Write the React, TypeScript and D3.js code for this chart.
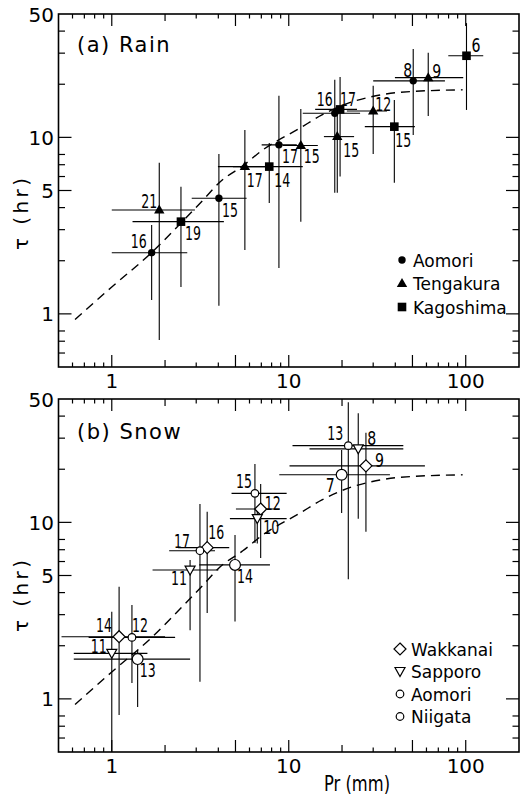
import React from "react";
import * as d3 from "d3";

// ---------- data ----------
// Axis ticks
const xLabelValues = [1, 10, 100];
const xLabelTexts = ["1", "10", "100"];
const xLongTicks = [1, 5, 10, 50, 100];
const xMidTicks = [2, 20];
const xShortTicks = [0.6, 0.7, 0.8, 0.9, 3, 4, 6, 7, 8, 9, 30, 40, 60, 70, 80, 90];
const yLabelValues = [1, 5, 10, 50];
const yLabelTexts = ["1", "5", "10", "50"];
const yLongTicks = [1, 5, 10];
const yShortTicks = [0.6, 0.7, 0.8, 2, 3, 4, 6, 7, 8, 20, 30, 40];

// Dashed model curve (same in both panels)
const curvePr = [0.62, 1.0, 1.7, 2.48, 3.27, 4.1, 5.5, 7.15, 11.6, 15.4, 22.8, 28.7, 42.4, 96];
const curveTau = [0.93, 1.42, 2.25, 3.3, 4.4, 5.6, 6.9, 8.5, 11.3, 13.4, 15.9, 16.9, 18.0, 18.6];

// (a) Rain  — [Pr, tau, PrLo, PrHi, tauLo, tauHi, n]
const rainAomori = [
  [1.68, 2.22, 1.0, 2.67, 1.2, 3.19, "16"],
  [4.03, 4.52, 2.83, 5.78, 1.11, 8.06, "15"],
  [8.8, 9.07, 7.03, 11.1, 1.82, 17.2, "17"],
  [18.2, 13.7, 12.0, 25.3, 4.85, 21.2, "16"],
  [50.5, 20.9, 30, 76.3, 10.3, 31.7, "8"],
];
const rainTengakura = [
  [1.855, 3.88, 1.0, 2.95, 0.71, 7.17, "21"],
  [5.65, 6.83, 3.98, 7.34, 2.3, 11.0, "17"],
  [11.7, 8.99, 9.27, 14.6, 3.33, 14.5, "15"],
  [18.8, 10.1, 15.8, 23.4, 4.85, 13.8, "15"],
  [30.0, 14.1, 21.3, 35.9, 8.06, 19.6, "12"],
  [61.4, 21.8, 39.8, 96.8, 13.2, 30.2, "9"],
];
const rainKagoshima = [
  [2.46, 3.33, 1.31, 4.3, 1.42, 5.25, "19"],
  [7.76, 6.83, 4.84, 12.0, 4.25, 9.3, "14"],
  [19.5, 14.4, 14.1, 24.3, 6.0, 22.0, "17"],
  [39.5, 11.5, 26.9, 51.6, 5.53, 16.3, "15"],
  [101, 29, 79.7, 125.6, 14.3, 44.4, "6"],
];

// (b) Snow
const snowWakkanai = [
  [1.10, 2.25, 0.52, 2.0, 0.81, 4.32, "14"],
  [3.46, 7.19, 2.37, 4.61, 3.07, 11.5, "16"],
  [6.94, 11.9, 5.03, 8.9, 6.28, 16.5, "12"],
  [27.3, 20.9, 10.1, 58.8, 8.86, 32.2, "9"],
];
const snowSapporo = [
  [1.0, 1.81, 0.61, 1.59, 0.5, 3.12, "11"],
  [2.77, 5.37, 1.70, 4.0, 2.45, 6.12, "11"],
  [6.64, 10.5, 4.65, 9.73, 7.6, 11.5, "10"],
  [24.7, 26.1, 13.1, 44.4, 10.5, 41.5, "8"],
];
const snowAomori = [
  [1.30, 2.23, 0.74, 2.28, 1.23, 3.4, "12"],
  [3.15, 6.91, 2.11, 3.83, 1.25, 12.7, "17"],
  [6.44, 14.6, 4.75, 9.73, 7.64, 21.4, "15"],
  [21.7, 27.2, 10.5, 44.4, 4.76, 48, "13"],
];
const snowNiigata = [
  [1.40, 1.68, 0.61, 2.77, 0.90, 1.9, "13"],
  [4.97, 5.74, 3.12, 7.83, 2.74, 8.48, "14"],
  [19.9, 18.6, 8.84, 37.3, 11.3, 25.7, "7"],
];

const rainNames = ["Aomori", "Tengakura", "Kagoshima"];
const snowNames = ["Wakkanai", "Sapporo", "Aomori", "Niigata"];

// ---------- label placement (style, px offsets from marker) ----------
const rainAomoriLbl = [[-5, -5, "end"], [3, 19, "start"], [3, 18, "start"], [-2, -7, "end"], [-1, -4, "end"]];
const rainTengakuraLbl = [[-2, -2, "end"], [2, 20, "start"], [3, 17, "start"], [6, 20, "start"], [2, 0, "start"], [4, 0, "start"]];
const rainKagoshimaLbl = [[4, 18, "start"], [5, 20, "start"], [0, -3, "start"], [1, 20, "start"], [5, -4, "start"]];
const snowWakkanaiLbl = [[-7, -5, "end"], [1, -9, "start"], [4, 1, "start"], [9, 1, "start"]];
const snowSapporoLbl = [[-5, 0, "end"], [-3, 15, "end"], [6, 15, "start"], [9, -4, "start"]];
const snowAomoriLbl = [[0, -5, "start"], [-10, -3, "end"], [-3, -5, "end"], [-5, -6, "end"]];
const snowNiigataLbl = [[2, 18, "start"], [2, 18, "start"], [-7, 17, "end"]];

// ---------- layout ----------
const W = 527;
const H = 797;
const X0 = 58.5;
const X1 = 519;
const FONT = "'DejaVu Sans', 'Liberation Sans', sans-serif";

const x = d3.scaleLog().domain([0.5, 200]).range([X0, X1]);

type Row = (number | string)[];

function Marker({ kind, cx, cy }: { kind: string; cx: number; cy: number }) {
  const sw = 1.2;
  switch (kind) {
    case "dot":
      return <circle cx={cx} cy={cy} r={3.7} fill="#000" />;
    case "tri":
      return <path d={`M${cx},${cy - 5.5}L${cx + 5.2},${cy + 3.5}L${cx - 5.2},${cy + 3.5}Z`} fill="#000" />;
    case "sq":
      return <rect x={cx - 4.3} y={cy - 4.3} width={8.6} height={8.6} fill="#000" />;
    case "dia":
      return <path d={`M${cx},${cy - 6}L${cx + 6},${cy}L${cx},${cy + 6}L${cx - 6},${cy}Z`} fill="#fff" stroke="#000" strokeWidth={sw} />;
    case "tridown":
      return <path d={`M${cx - 5},${cy - 4}L${cx + 5},${cy - 4}L${cx},${cy + 5}Z`} fill="#fff" stroke="#000" strokeWidth={sw} />;
    case "osmall":
      return <circle cx={cx} cy={cy} r={3.8} fill="#fff" stroke="#000" strokeWidth={sw} />;
    case "obig":
      return <circle cx={cx} cy={cy} r={5.4} fill="#fff" stroke="#000" strokeWidth={sw} />;
    default:
      return null;
  }
}

function Panel(props: {
  top: number;
  bottom: number;
  series: { rows: Row[]; lbl: (number | string)[][]; kind: string }[];
  names: string[];
  kinds: string[];
  legendX: number;
  legendY: number[];
  title: string;
  titleY: number;
  yTitleY: number;
  xLabelY: number;
}) {
  const { top, bottom } = props;
  const y = d3.scaleLog().domain([0.5, 50]).range([bottom, top]);
  const curve = d3
    .line<number>()
    .x((_, i) => x(curvePr[i]))
    .y((_, i) => y(curveTau[i]))
    .curve(d3.curveMonotoneX);
  const clampX = (v: number) => x(Math.max(0.5, Math.min(200, v)));
  const clampY = (v: number) => y(Math.max(0.5, Math.min(50, v)));

  const tickEls: React.ReactNode[] = [];
  const xt = (vals: number[], len: number, key: string) =>
    vals.forEach((v, i) => {
      tickEls.push(<line key={`xb${key}${i}`} x1={x(v)} x2={x(v)} y1={bottom} y2={bottom - len} stroke="#000" strokeWidth={1.2} />);
      tickEls.push(<line key={`xt${key}${i}`} x1={x(v)} x2={x(v)} y1={top} y2={top + len} stroke="#000" strokeWidth={1.2} />);
    });
  xt(xLongTicks, 12, "L");
  xt(xMidTicks, 7, "M");
  xt(xShortTicks, 4.5, "S");
  const yt = (vals: number[], len: number, key: string) =>
    vals.forEach((v, i) => {
      tickEls.push(<line key={`yl${key}${i}`} x1={X0} x2={X0 + len} y1={y(v)} y2={y(v)} stroke="#000" strokeWidth={1.2} />);
      tickEls.push(<line key={`yr${key}${i}`} x1={X1} x2={X1 - len} y1={y(v)} y2={y(v)} stroke="#000" strokeWidth={1.2} />);
    });
  yt(yLongTicks, 13, "L");
  yt(yShortTicks, 6.5, "S");

  return (
    <g>
      <rect x={X0} y={top} width={X1 - X0} height={bottom - top} fill="none" stroke="#000" strokeWidth={1.6} />
      {tickEls}
      {yLabelValues.map((v, i) => (
        <text key={`yl${i}`} x={54} y={y(v) + 7.5} textAnchor="end" fontSize={20} fontFamily={FONT}>
          {yLabelTexts[i]}
        </text>
      ))}
      {xLabelValues.map((v, i) => (
        <text key={`xl${i}`} x={x(v)} y={props.xLabelY} textAnchor="middle" fontSize={20} fontFamily={FONT}>
          {xLabelTexts[i]}
        </text>
      ))}
      <text
        transform={`translate(28,${props.yTitleY}) rotate(-90)`}
        textAnchor="middle"
        fontSize={20}
        fontFamily={FONT}
        textLength={72}
        lengthAdjust="spacing"
      >
        τ (hr)
      </text>
      <text x={77} y={props.titleY} fontSize={21} fontFamily={FONT} letterSpacing={1.5}>
        {props.title}
      </text>
      <path d={curve(curvePr) || ""} fill="none" stroke="#000" strokeWidth={1.4} strokeDasharray="9,6" />
      {props.series.map((s, si) =>
        s.rows.map((r, i) => {
          const [pr, tau, pl, ph, tl, th] = r as number[];
          return (
            <g key={`eb${si}-${i}`} stroke="#000" strokeWidth={1.1}>
              <line x1={clampX(pl)} x2={clampX(ph)} y1={y(tau)} y2={y(tau)} />
              <line x1={x(pr)} x2={x(pr)} y1={clampY(tl)} y2={clampY(th)} />
            </g>
          );
        })
      )}
      {props.series.map((s, si) =>
        s.rows.map((r, i) => {
          const pr = r[0] as number;
          const tau = r[1] as number;
          const n = r[6] as string;
          const [dx, dy, anchor] = s.lbl[i] as [number, number, string];
          return (
            <g key={`m${si}-${i}`}>
              <Marker kind={s.kind} cx={x(pr)} cy={y(tau)} />
              <text
                x={x(pr) + dx}
                y={y(tau) + dy}
                textAnchor={anchor as any}
                fontSize={19}
                fontFamily={FONT}
                fill="#000"
                textLength={n.length === 2 ? 16 : 9}
                lengthAdjust="spacingAndGlyphs"
              >
                {n}
              </text>
            </g>
          );
        })
      )}
      {props.names.map((nm, i) => (
        <g key={`lg${i}`}>
          <Marker kind={props.kinds[i]} cx={props.legendX} cy={props.legendY[i]} />
          <text x={props.legendX + 11} y={props.legendY[i] + 6.5} fontSize={17} fontFamily={FONT}>
            {nm}
          </text>
        </g>
      ))}
    </g>
  );
}

export default function App() {
  return (
    <svg
      width={W}
      height={H}
      viewBox={`0 0 ${W} ${H}`}
      style={{ position: "absolute", left: 0, top: 0, background: "#fff" }}
    >
      <rect x={0} y={0} width={W} height={H} fill="#fff" />
      <Panel
        top={14}
        bottom={367}
        series={[
          { rows: rainAomori, lbl: rainAomoriLbl, kind: "dot" },
          { rows: rainTengakura, lbl: rainTengakuraLbl, kind: "tri" },
          { rows: rainKagoshima, lbl: rainKagoshimaLbl, kind: "sq" },
        ]}
        names={rainNames}
        kinds={["dot", "tri", "sq"]}
        legendX={402}
        legendY={[260, 283.5, 307]}
        title="(a) Rain"
        titleY={52}
        yTitleY={214}
        xLabelY={388}
      />
      <Panel
        top={399}
        bottom={752}
        series={[
          { rows: snowWakkanai, lbl: snowWakkanaiLbl, kind: "dia" },
          { rows: snowSapporo, lbl: snowSapporoLbl, kind: "tridown" },
          { rows: snowAomori, lbl: snowAomoriLbl, kind: "osmall" },
          { rows: snowNiigata, lbl: snowNiigataLbl, kind: "obig" },
        ]}
        names={snowNames}
        kinds={["dia", "tridown", "osmall", "osmall"]}
        legendX={400}
        legendY={[649, 671.5, 694, 716.5]}
        title="(b) Snow"
        titleY={439}
        yTitleY={596}
        xLabelY={773}
      />
      <text
        x={357}
        y={791}
        textAnchor="middle"
        fontSize={21}
        fontFamily={FONT}
        textLength={66}
        lengthAdjust="spacingAndGlyphs"
      >
        Pr (mm)
      </text>
    </svg>
  );
}
